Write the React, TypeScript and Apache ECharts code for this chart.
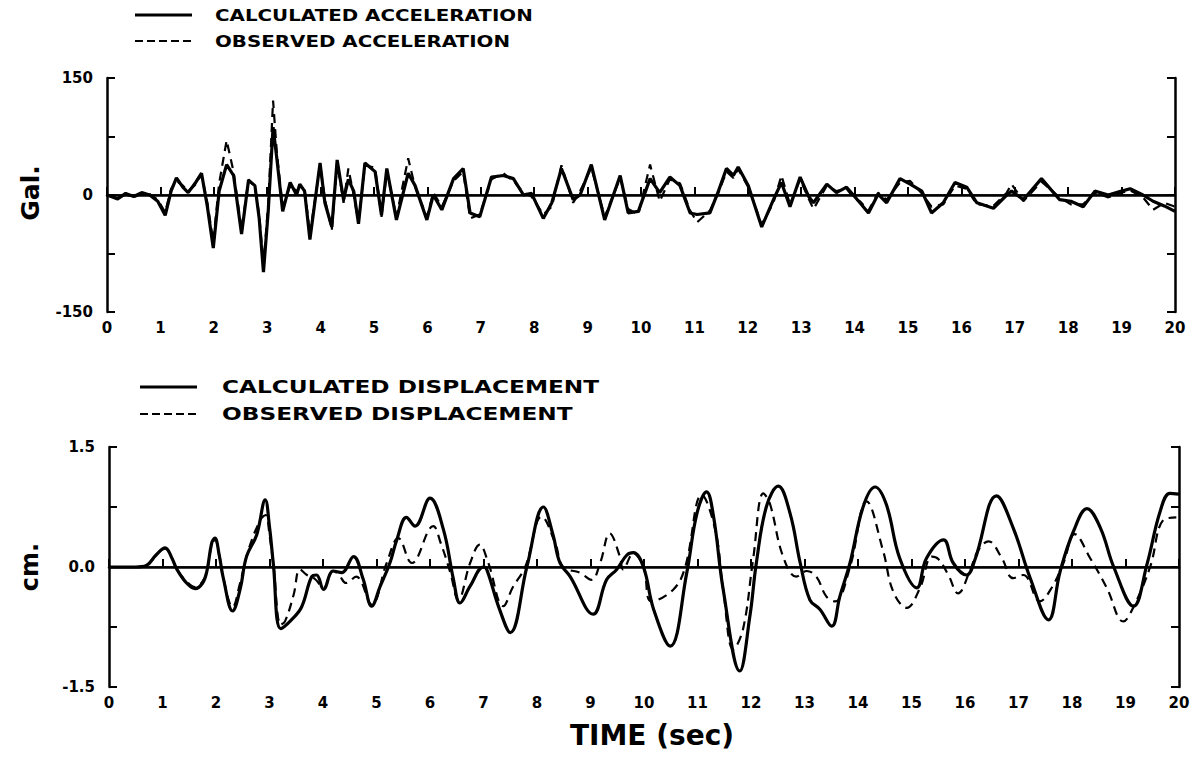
import React, { useEffect, useRef } from "react";
import * as echarts from "echarts";

// Acceleration (Gal) — sample times and values
const accTime = [
  0, 0.2, 0.35, 0.5, 0.65, 0.8, 0.95, 1.09, 1.2, 1.3,
  1.42, 1.52, 1.65, 1.77, 1.88, 1.99, 2.1, 2.24, 2.37, 2.52,
  2.65, 2.77, 2.85, 2.93, 3.02, 3.11, 3.18, 3.29, 3.43, 3.55,
  3.61, 3.7, 3.8, 3.99, 4.08, 4.21, 4.31, 4.43, 4.52, 4.62,
  4.71, 4.83, 5.02, 5.14, 5.24, 5.42, 5.64, 5.77, 5.99, 6.11,
  6.27, 6.49, 6.67, 6.8, 6.98, 7.2, 7.42, 7.61, 7.8, 7.95,
  8.17, 8.33, 8.51, 8.73, 8.86, 9.07, 9.32, 9.61, 9.76, 9.95,
  10.17, 10.35, 10.54, 10.73, 10.92, 11.05, 11.29, 11.45, 11.6, 11.73,
  11.82, 12.01, 12.26, 12.48, 12.63, 12.79, 12.98, 13.14, 13.23, 13.48,
  13.66, 13.85, 14.0, 14.1, 14.26, 14.44, 14.6, 14.85, 15.04, 15.26,
  15.44, 15.66, 15.88, 16.1, 16.29, 16.6, 16.85, 16.94, 17.16, 17.5,
  17.84, 18.05, 18.28, 18.5, 18.75, 18.95, 19.16, 19.4, 19.59, 19.8,
  20.0,
];
const accCalculated = [
  0, -5, 2, -2, 3, 0, -8, -26, 5, 22,
  10, 3, 15, 28, -15, -68, 5, 39, 25, -50,
  19, 12, -30, -99, -20, 87, 47, -21, 16, 0,
  14, 5, -57, 41, -10, -41, 45, -6, 20, 5,
  -37, 41, 30, -26, 34, -32, 28, 12, -32, 0,
  -19, 21, 34, -23, -28, 23, 25, 21, 0, 2,
  -30, -10, 34, -6, 0, 39, -32, 25, -23, -21,
  21, 3, 23, 12, -23, -25, -23, 5, 34, 25,
  36, 12, -41, -6, 16, -15, 23, -2, -10, 14,
  3, 10, -2, -10, -23, 1, -10, 21, 14, 5,
  -23, -10, 16, 10, -10, -17, 0, 5, -6, 21,
  -6, -8, -15, 5, 0, 4, 8, 0, -8, -14,
  -21,
];
const accObserved = [
  0, -4, 1, -3, 2, 1, -6, -22, 8, 18,
  12, 5, 13, 26, -10, -60, 15, 70, 30, -45,
  20, 10, -25, -90, -10, 121, 55, -15, 12, 5,
  10, 8, -50, 38, -5, -45, 42, -10, 34, 0,
  -35, 38, 35, -28, 30, -28, 47, 10, -28, 3,
  -15, 18, 30, -30, -25, 20, 28, 18, 3, -2,
  -25, -15, 38, -10, 5, 35, -28, 22, -18, -25,
  39, -8, 20, 15, -20, -35, -20, 3, 30, 22,
  33, 10, -38, -10, 25, -12, 20, -5, -18, 12,
  5, 8, -5, -8, -20, 3, -6, 16, 18, 2,
  -15, -12, 12, 8, -12, -14, 3, 14, -8, 17,
  -3, -12, -12, 3, -3, 2, 6, -3, -19, -10,
  -15,
];

// Displacement (cm)
const dispCalcTime = [
  0, 0.5, 0.7, 0.88, 1.05, 1.17, 1.27, 1.45, 1.61, 1.75,
  1.83, 1.92, 1.98, 2.06, 2.14, 2.31, 2.45, 2.57, 2.76, 2.92,
  3.0, 3.07, 3.21, 3.41, 3.6, 3.79, 3.88, 4.01, 4.19, 4.35,
  4.57, 4.75, 4.91, 5.07, 5.25, 5.38, 5.56, 5.72, 6.0, 6.25,
  6.44, 6.56, 6.75, 7.0, 7.06, 7.3, 7.5, 7.81, 8.12, 8.3,
  8.43, 8.62, 9.05, 9.3, 9.49, 9.68, 9.8, 9.99, 10.18, 10.49,
  10.8, 10.99, 11.17, 11.3, 11.48, 11.79, 11.98, 12.1, 12.29, 12.51,
  12.73, 12.92, 13.1, 13.29, 13.51, 13.66, 13.85, 14.1, 14.32, 14.53,
  14.78, 15.1, 15.28, 15.6, 15.78, 16.03, 16.19, 16.59, 16.9, 17.22,
  17.56, 17.78, 18.03, 18.28, 18.53, 18.78, 19.15, 19.4, 19.65, 19.83,
  20.0,
];
const dispCalculated = [
  0, 0, 0.02, 0.15, 0.24, 0.12, -0.03, -0.2, -0.27, -0.2,
  -0.05, 0.3, 0.36, 0.15, -0.15, -0.55, -0.28, 0.13, 0.4, 0.84,
  0.5, 0.05, -0.77, -0.66, -0.5, -0.12, -0.1, -0.28, -0.05, -0.07,
  0.13, -0.15, -0.49, -0.24, 0.05, 0.34, 0.62, 0.51, 0.86, 0.47,
  -0.16, -0.45, -0.24, 0, -0.03, -0.53, -0.82, 0, 0.75, 0.4,
  0.05, -0.12, -0.59, -0.16, -0.03, 0.15, 0.18, 0, -0.53, -0.99,
  -0.07, 0.67, 0.94, 0.63, -0.28, -1.3, -0.61, 0.05, 0.76, 1.01,
  0.67, 0.05, -0.41, -0.53, -0.74, -0.37, 0.05, 0.76, 1.0, 0.78,
  0.11, -0.26, 0.11, 0.34, 0.05, -0.1, 0.1, 0.89, 0.49, -0.14,
  -0.66, -0.05, 0.45, 0.73, 0.49, 0, -0.49, 0.03, 0.7, 0.92,
  0.91,
];
const dispObsTime = [
  0, 0.5, 0.7, 0.88, 1.05, 1.17, 1.27, 1.45, 1.61, 1.75,
  1.83, 1.92, 1.98, 2.06, 2.14, 2.31, 2.45, 2.6, 2.83, 2.93,
  3.0, 3.07, 3.21, 3.29, 3.45, 3.57, 3.7, 3.85, 4.01, 4.19,
  4.3, 4.43, 4.62, 4.91, 5.19, 5.41, 5.66, 6.06, 6.2, 6.38,
  6.53, 6.75, 6.93, 7.09, 7.37, 7.55, 7.78, 8.09, 8.34, 8.49,
  8.8, 9.02, 9.18, 9.36, 9.55, 9.61, 9.8, 9.99, 10.14, 10.55,
  10.77, 11.08, 11.33, 11.48, 11.67, 11.85, 12.04, 12.23, 12.35, 12.6,
  12.85, 13.04, 13.22, 13.41, 13.57, 13.85, 14.16, 14.47, 14.66, 14.91,
  15.16, 15.38, 15.5, 15.69, 15.87, 16.09, 16.24, 16.44, 16.69, 16.9,
  17.09, 17.4, 17.62, 17.84, 18.05, 18.34, 18.65, 18.96, 19.15, 19.46,
  19.71, 19.95,
];
const dispObserved = [
  0, 0, 0.02, 0.15, 0.23, 0.12, -0.03, -0.18, -0.25, -0.18,
  -0.05, 0.28, 0.34, 0.15, -0.15, -0.5, -0.2, 0.2, 0.59, 0.65,
  0.4, 0.05, -0.72, -0.68, -0.35, -0.03, -0.1, -0.15, -0.26, -0.05,
  -0.1, -0.2, -0.12, -0.47, 0.05, 0.36, 0.05, 0.51, 0.3, -0.07,
  -0.41, 0.05, 0.28, 0.05, -0.49, -0.25, 0, 0.63, 0.3, 0,
  -0.07, -0.16, 0.05, 0.42, 0.13, -0.03, 0.17, 0, -0.43, -0.28,
  0, 0.9, 0.47, -0.28, -1.03, -0.78, 0.1, 0.92, 0.8, 0.13,
  -0.12, -0.05, -0.12, -0.37, -0.43, 0, 0.82, 0.2, -0.31, -0.51,
  -0.26, 0.13, 0.1, -0.1, -0.33, -0.05, 0.2, 0.32, 0.11, -0.14,
  -0.1, -0.43, -0.26, 0.05, 0.41, 0.11, -0.26, -0.68, -0.5, 0,
  0.59, 0.62,
];

const xTicks = [0, 20, 1];
const accTicks = [-150, 150, 75];
const dispTicks = [-1.5, 1.5, 0.75];

const FONT = "DejaVu Sans";

function zip(t: number[], v: number[]) {
  return t.map((x, i) => [x, v[i]]);
}

export default function App() {
  const ref = useRef<HTMLDivElement>(null);
  useEffect(() => {
    if (!ref.current) return;
    const chart = echarts.init(ref.current, undefined, { renderer: "svg" });
    const axisLine = { show: true, lineStyle: { color: "#000", width: 2.5 } };
    const tick = { show: true, inside: true, length: 8, lineStyle: { color: "#000", width: 2 } };
    const xAxisBase = (gridIndex: number) => ({
      type: "value",
      gridIndex,
      min: xTicks[0],
      max: xTicks[1],
      interval: xTicks[2],
      axisLine,
      axisTick: tick,
      splitLine: { show: false },
      axisLabel: { color: "#000", fontSize: 15, fontWeight: "bold", fontFamily: FONT, margin: 8 },
    });
    const yAxisPair = (gridIndex: number, t: number[], fmt: (v: number) => string) => [
      {
        type: "value",
        gridIndex,
        min: t[0],
        max: t[1],
        interval: t[2],
        position: "left",
        axisLine,
        axisTick: tick,
        splitLine: { show: false },
        axisLabel: {
          color: "#000",
          fontSize: 15,
          fontWeight: "bold",
          fontFamily: FONT,
          margin: 14,
          formatter: fmt,
        },
      },
      {
        type: "value",
        gridIndex,
        min: t[0],
        max: t[1],
        interval: t[2],
        position: "right",
        axisLine,
        axisTick: tick,
        splitLine: { show: false },
        axisLabel: { show: false },
      },
    ];
    const zeroLine = {
      silent: true,
      symbol: "none",
      label: { show: false },
      lineStyle: { color: "#000", width: 1.6, type: "solid" },
      data: [{ yAxis: 0 }],
    };
    const solid = { color: "#000", width: 3.2, type: "solid" };
    const dashed = { color: "#000", width: 2.2, type: [9, 6] };
    const legendText = (x: number, y: number, text: string, size: number, sx: number) => ({
      type: "text",
      x,
      y,
      scaleX: sx,
      style: {
        text,
        fill: "#000",
        font: `bold ${size}px '${FONT}'`,
        verticalAlign: "middle",
      },
    });
    const legendLine = (x1: number, x2: number, y: number, dash: boolean) => ({
      type: "line",
      shape: { x1, y1: y, x2, y2: y },
      style: { stroke: "#000", lineWidth: dash ? 2 : 3, lineDash: dash ? [8, 4] : null },
    });
    chart.setOption({
      animation: false,
      backgroundColor: "#fff",
      grid: [
        { left: 107, right: 27, top: 78, height: 234 },
        { left: 109, right: 23, top: 447, height: 240 },
      ],
      xAxis: [xAxisBase(0), xAxisBase(1)],
      yAxis: [
        ...yAxisPair(0, accTicks, (v) => (v === 0 || Math.abs(v) === 150 ? String(v) : "")),
        ...yAxisPair(1, dispTicks, (v) => (v === 0 ? "0.0" : Math.abs(v) === 1.5 ? v.toFixed(1) : "")),
      ],
      series: [
        {
          type: "line",
          name: "OBSERVED ACCELERATION",
          xAxisIndex: 0,
          yAxisIndex: 0,
          data: zip(accTime, accObserved),
          showSymbol: false,
          lineStyle: dashed,
          markLine: zeroLine,
        },
        {
          type: "line",
          name: "CALCULATED ACCELERATION",
          xAxisIndex: 0,
          yAxisIndex: 0,
          data: zip(accTime, accCalculated),
          showSymbol: false,
          lineStyle: solid,
        },
        {
          type: "line",
          name: "OBSERVED DISPLACEMENT",
          xAxisIndex: 1,
          yAxisIndex: 2,
          data: zip(dispObsTime, dispObserved),
          showSymbol: false,
          smooth: 0.4,
          lineStyle: dashed,
          markLine: zeroLine,
        },
        {
          type: "line",
          name: "CALCULATED DISPLACEMENT",
          xAxisIndex: 1,
          yAxisIndex: 2,
          data: zip(dispCalcTime, dispCalculated),
          showSymbol: false,
          smooth: 0.4,
          lineStyle: solid,
        },
      ],
      graphic: [
        legendLine(135, 192, 15, false),
        legendText(215, 15, "CALCULATED ACCELERATION", 16, 1.24),
        legendLine(135, 192, 41, true),
        legendText(215, 41, "OBSERVED ACCELERATION", 16, 1.24),
        legendLine(140, 197, 387, false),
        legendText(222, 387, "CALCULATED DISPLACEMENT", 18, 1.29),
        legendLine(140, 197, 414, true),
        legendText(222, 414, "OBSERVED DISPLACEMENT", 18, 1.29),
        {
          type: "text",
          x: 30,
          y: 193,
          rotation: Math.PI / 2,
          style: { text: "Gal.", fill: "#000", font: `bold 25px '${FONT}'`, align: "center", verticalAlign: "middle" },
        },
        {
          type: "text",
          x: 30,
          y: 567,
          rotation: Math.PI / 2,
          style: { text: "cm.", fill: "#000", font: `bold 24px '${FONT}'`, align: "center", verticalAlign: "middle" },
        },
        {
          type: "text",
          x: 652,
          y: 735,
          style: { text: "TIME (sec)", fill: "#000", font: `bold 28px '${FONT}'`, align: "center", verticalAlign: "middle" },
        },
      ],
    });
    return () => chart.dispose();
  }, []);
  return (
    <div
      ref={ref}
      style={{ position: "absolute", left: 0, top: 0, width: 1202, height: 757, background: "#fff" }}
    />
  );
}
